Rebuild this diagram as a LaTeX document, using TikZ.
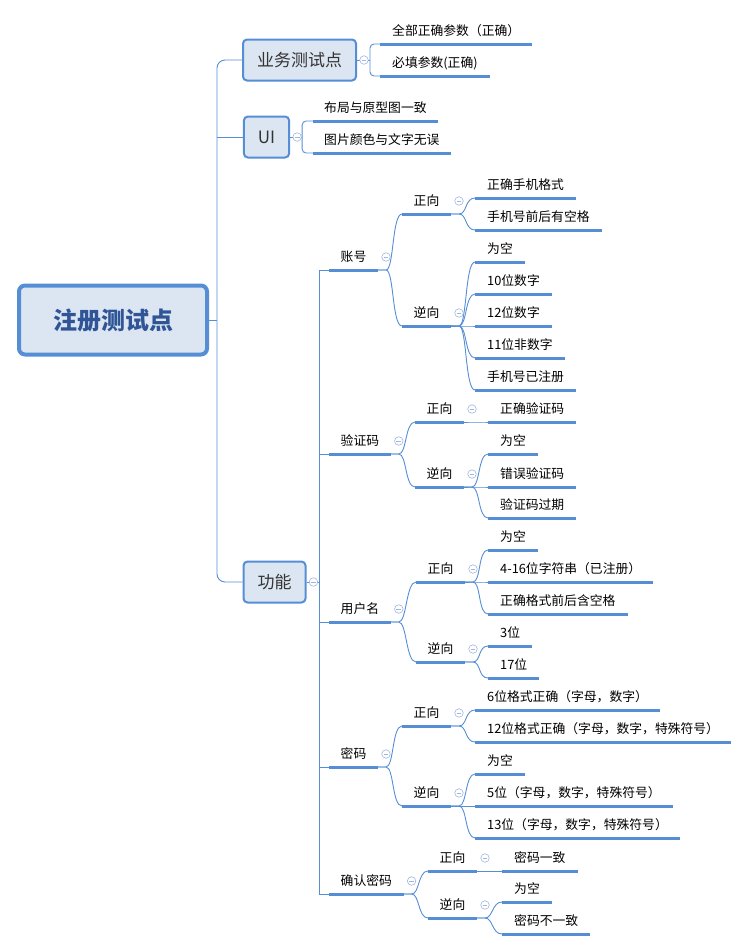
\documentclass[tikz,border=0pt]{standalone}
\usepackage{fontspec}
\setmainfont{Noto Sans CJK SC}
\usetikzlibrary{calc}
\definecolor{linea}{RGB}{85,142,213}
\definecolor{relleno}{RGB}{220,230,242}
\definecolor{titulo}{RGB}{47,85,151}
\definecolor{colpliegue}{RGB}{160,182,222}
\tikzset{
  enlace/.style={draw=linea, line width=0.9pt},
  rama/.style={to path={-- ++(8,0) .. controls +(8,0) and +(-10,0) .. (\tikztotarget)}},
  subrayado/.style={draw=linea, line width=3pt},
  hoja/.style={anchor=south west, inner xsep=12pt, inner ysep=4pt, text height=9.5pt, text depth=4.3pt,
    font=\fontsize{12.8}{14}\selectfont,
    append after command={(\tikzlastnode.south west) edge[subrayado] (\tikzlastnode.south east)}},
  caja/.style={draw=linea, fill=relleno, line width=2pt, rounded corners=4pt, inner xsep=14pt,
    minimum height=41pt, font=\fontsize{17}{20}\selectfont, text=black!80},
  raiz/.style={caja, line width=4pt, rounded corners=6pt, minimum width=188pt, minimum height=69pt,
    font=\fontsize{24}{28}\selectfont\bfseries, text=titulo},
  pliegue/.style={circle, draw=colpliegue, fill=white, line width=0.6pt, minimum size=8.5pt, inner sep=0pt,
    path picture={\draw[colpliegue, line width=0.6pt] ([xshift=-2.4pt]path picture bounding box.center)
      -- ([xshift=2.4pt]path picture bounding box.center);}}
}
\begin{document}
\begin{tikzpicture}[x=1pt, y=-1pt]
    \useasboundingbox (0,0) rectangle (753,951);
    % Nodo central
    \node[raiz] (raiz) at (113,320) {注册测试点};
    % Primer nivel
    \node[caja] (ywcs) at (299.5,60) {业务测试点};
    \node[caja] (ui) at (266.5,137) {UI};
    \node[caja] (gn) at (274.5,582) {功能};
    \coordinate (tronco) at (217,320);
    \draw[enlace] (raiz.east) -- (tronco);
    \draw[enlace, rounded corners=8pt] (ywcs.west) -| (tronco) |- (gn.west);
    \draw[enlace] (ui.west) -- (ui.west -| tronco);
    % 业务测试点
    \node[hoja] (qb) at (380,44) {全部正确参数（正确）};
    \node[hoja] (bt) at (380,76) {必填参数(正确)};
    \coordinate (yw-r) at ($(ywcs.east)+(13,0)$);
    \draw[enlace] (ywcs.east) -- (yw-r);
    \draw[enlace, rounded corners=4pt] (qb.south west) -| (yw-r) |- (bt.south west);
    % UI
    \node[hoja, inner xsep=11pt] (bj) at (313,121) {布局与原型图一致};
    \node[hoja, inner xsep=11pt] (tp) at (313,153) {图片颜色与文字无误};
    \coordinate (ui-r) at ($(ui.east)+(12,0)$);
    \draw[enlace] (ui.east) -- (ui-r);
    \draw[enlace, rounded corners=4pt] (bj.south west) -| (ui-r) |- (tp.south west);
    % Ramas de 功能
    \foreach \n/\y/\t in {zh/270/账号, yzm/454/验证码, yhm/622/用户名, mm/767/密码, qrmm/894/确认密码}
        \node[hoja, inner xsep=11.5pt] (\n) at (329,\y) {\t};
    \coordinate (gn-r) at ($(gn.east)+(13,0)$);
    \draw[enlace] (gn.east) -- (gn-r);
    \draw[enlace] (zh.south west) -| (gn-r) |- (qrmm.south west);
    \foreach \n in {yzm,yhm,mm}
        \draw[enlace] (\n.south west) -- (\n.south west -| gn-r);
    % 正向 / 逆向
    \foreach \p/\n/\x/\y/\t in {zh/zx1/402/214/正向, zh/nx1/402/326/逆向,
        yzm/zx2/415/422/正向, yzm/nx2/415/487/逆向, yhm/zx3/416/582/正向, yhm/nx3/416/662/逆向,
        mm/zx4/402/726/正向, mm/nx4/402/806/逆向, qrmm/zx5/428/871/正向, qrmm/nx5/428/918/逆向} {
        \node[hoja, inner xsep=11.5pt] (\n) at (\x,\y) {\t};
        \draw[enlace] (\p.south east) to[rama] (\n.south west);
    }
    % Casos
    \foreach \p/\n/\x/\y/\t in {zx1/a1/475/198/正确手机格式, zx1/a2/475/230/手机号前后有空格,
        nx1/a3/475/262/为空, nx1/a4/475/294/10位数字, nx1/a5/475/326/12位数字,
        nx1/a6/475/358/11位非数字, nx1/a7/475/390/手机号已注册,
        zx2/b1/488/422/正确验证码, nx2/b2/488/454/为空, nx2/b3/488/487/错误验证码, nx2/b4/488/518/验证码过期,
        zx3/c1/488/550/为空, zx3/c2/488/582/4-16位字符串（已注册）, zx3/c3/488/614/正确格式前后含空格,
        nx3/c4/488/646/3位, nx3/c5/488/678/17位,
        zx4/d1/475/710/6位格式正确（字母，数字）, zx4/d2/475/742/12位格式正确（字母，数字，特殊符号）,
        nx4/d3/475/774/为空, nx4/d4/475/806/5位（字母，数字，特殊符号）, nx4/d5/475/838/13位（字母，数字，特殊符号）,
        zx5/e1/502/871/密码一致, nx5/e2/502/902/为空, nx5/e3/502/934/密码不一致} {
        \node[hoja] (\n) at (\x,\y) {\t};
        \draw[enlace] (\p.south east) to[rama] (\n.south west);
    }
    % Botones de plegado
    \foreach \n in {ywcs,ui,gn}
        \node[pliegue] (f-\n) at ($(\n.east)+(7,0)$) {};
    \foreach \n in {zh,yzm,yhm,mm,qrmm,zx1,nx1,zx2,nx2,zx3,nx3,zx4,nx4,zx5,nx5}
        \node[pliegue] (f-\n) at ($(\n.south east)+(8,-13)$) {};
\end{tikzpicture}
\end{document}
